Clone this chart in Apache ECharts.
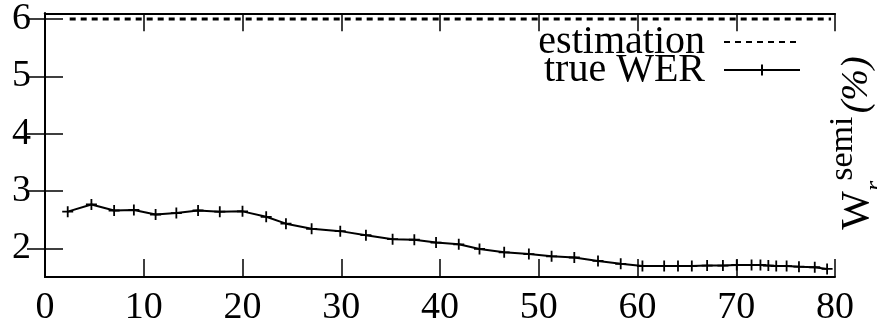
<!DOCTYPE html>
<html>
<head>
<meta charset="utf-8">
<script src="https://cdn.jsdelivr.net/npm/echarts@6/dist/echarts.min.js"></script>
<style>
html,body{margin:0;padding:0;background:#fff;}
#c{width:877px;height:327px;}
</style>
</head>
<body>
<div id="c"></div>
<script>
// ---- data ----
var xValues = [2.3, 4.7, 7.0, 9.0, 11.2, 13.3, 15.5, 17.7, 20.0, 22.4, 24.4, 27.0, 29.9, 32.5, 35.2, 37.4, 39.6, 41.9, 44.0, 46.5, 49.0, 51.3, 53.6, 56.0, 58.3, 60.5, 62.7, 64.1, 65.5, 67.05, 68.65, 70.05, 71.55, 72.45, 73.25, 74.05, 75.1, 76.35, 77.95, 79.2];
var trueWER = [2.64, 2.765, 2.66, 2.67, 2.59, 2.615, 2.66, 2.64, 2.645, 2.55, 2.43, 2.34, 2.30, 2.23, 2.16, 2.15, 2.10, 2.07, 1.99, 1.93, 1.90, 1.86, 1.84, 1.78, 1.73, 1.69, 1.69, 1.69, 1.69, 1.70, 1.70, 1.71, 1.71, 1.71, 1.70, 1.69, 1.69, 1.68, 1.67, 1.64];
var estimationX = [2.5, 79.6];
var estimation = [6, 6];
var yTicks = [2, 3, 4, 5, 6];
var xTicks = [0, 10, 20, 30, 40, 50, 60, 70, 80];
var seriesNames = ['estimation', 'true WER'];

var FONT = "'Liberation Serif', serif";
function pairs(xs, ys) { return xs.map(function (x, i) { return [x, ys[i]]; }); }

var chart = echarts.init(document.getElementById('c'), null, {renderer: 'canvas'});
var axisLine = {show: true, lineStyle: {color: '#000', width: 2}};
var tickIn = {show: true, inside: true, length: 18, lineStyle: {color: '#000', width: 1.5}};

chart.setOption({
  animation: false,
  backgroundColor: '#fff',
  grid: {left: 45, right: 42, top: 7, bottom: 50, show: false},
  xAxis: [{
    type: 'value', min: 0, max: 80, interval: 10, position: 'bottom',
    axisLine: axisLine, axisTick: tickIn, splitLine: {show: false},
    axisLabel: {color: '#000', fontFamily: FONT, fontSize: 38, margin: 12,
      customValues: xTicks},
  }, {
    type: 'value', min: 0, max: 80, interval: 10, position: 'top',
    axisLine: axisLine, axisTick: tickIn, splitLine: {show: false},
    axisLabel: {show: false}
  }],
  yAxis: [{
    type: 'value', min: 1.5, max: 6.1, position: 'left',
    axisLine: axisLine,
    axisTick: Object.assign({}, tickIn, {customValues: yTicks}),
    splitLine: {show: false},
    axisLabel: {color: '#000', fontFamily: FONT, fontSize: 38, margin: 14, customValues: yTicks}
  }, {
    type: 'value', min: 1.5, max: 6.1, position: 'right',
    axisLine: axisLine,
    axisTick: Object.assign({}, tickIn, {customValues: yTicks}),
    splitLine: {show: false},
    axisLabel: {show: false}
  }],
  legend: {
    data: [{name: seriesNames[0], itemStyle: {opacity: 0}}, seriesNames[1]],
    orient: 'vertical', right: 76, top: 22, align: 'right', padding: 0,
    itemWidth: 76, itemHeight: 14, itemGap: -12,
    textStyle: {color: '#000', fontFamily: FONT, fontSize: 40, padding: [0, 14, 0, 0]}
  },
  graphic: [{
    type: 'text', x: 857, y: 143, rotation: Math.PI / 2,
    style: {
      text: '{w|W}{r|r}{s|semi} {p|(%)}',
      align: 'center', verticalAlign: 'middle', fill: '#000',
      rich: {
        w: {fontFamily: FONT, fontSize: 41, lineHeight: 62, fill: '#000'},
        r: {fontFamily: FONT, fontSize: 26, fontStyle: 'italic', lineHeight: 30, verticalAlign: 'bottom', fill: '#000'},
        s: {fontFamily: FONT, fontSize: 34, lineHeight: 34, verticalAlign: 'top', fill: '#000'},
        p: {fontFamily: FONT, fontSize: 38, fontStyle: 'italic', lineHeight: 62, fill: '#000'}
      }
    }
  }],
  series: [{
    name: seriesNames[0], type: 'line', data: pairs(estimationX, estimation),
    symbol: 'none', color: '#000',
    lineStyle: {color: '#000', width: 3.2, type: [6, 5]}
  }, {
    name: seriesNames[1], type: 'line', data: pairs(xValues, trueWER),
    symbol: 'path://M0,-5L0,5M-5,0L5,0', symbolSize: 11, color: '#000',
    itemStyle: {color: 'rgba(0,0,0,0)', borderColor: '#000', borderWidth: 1.8},
    lineStyle: {color: '#000', width: 2}
  }]
});
</script>
</body>
</html>
